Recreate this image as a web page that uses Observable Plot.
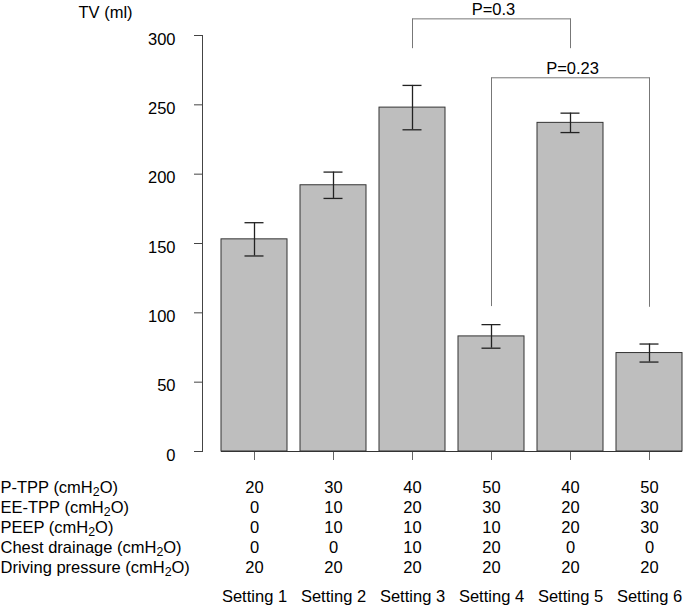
<!DOCTYPE html>
<html>
<head>
<meta charset="utf-8">
<script src="https://cdn.jsdelivr.net/npm/d3@7"></script>
<script src="https://cdn.jsdelivr.net/npm/@observablehq/plot@0.6"></script>
<style>
  html, body { margin: 0; padding: 0; background: #fff; }
  #chart svg { font-family: "Liberation Sans", Arial, Helvetica, sans-serif; }
</style>
</head>
<body>
<div id="chart"></div>
<script>
// ---- data ----
const settings = ["Setting 1", "Setting 2", "Setting 3", "Setting 4", "Setting 5", "Setting 6"];
const tvMean = [153, 192, 248, 83, 237, 71];
const tvErr = [12, 9.5, 16, 8.5, 7, 6.5];
const yTicks = [0, 50, 100, 150, 200, 250, 300];

const rowLabels = ["P-TPP (cmH2O)", "EE-TPP (cmH2O)", "PEEP (cmH2O)", "Chest drainage (cmH2O)", "Driving pressure (cmH2O)"];
const pTPP = [20, 30, 40, 50, 40, 50];
const eeTPP = [0, 10, 20, 30, 20, 30];
const peep = [0, 10, 10, 10, 20, 30];
const chestDrainage = [0, 0, 10, 20, 0, 0];
const drivingPressure = [20, 20, 20, 20, 20, 20];

const bracketFrom = ["Setting 3", "Setting 4"];
const bracketTo = ["Setting 5", "Setting 6"];
const bracketMid = ["Setting 4", "Setting 5"];
const bracketTop = [312, 269.5];
const bracketLeftEnd = [290.5, 104.5];
const bracketRightEnd = [290.5, 104];
const pLabels = ["P=0.3", "P=0.23"];

// ---- tables built from arrays ----
const bars = settings.map((s, i) => ({setting: s, tv: tvMean[i], lo: tvMean[i] - tvErr[i], hi: tvMean[i] + tvErr[i]}));
const rowValues = [pTPP, eeTPP, peep, chestDrainage, drivingPressure];
const brackets = pLabels.map((p, i) => ({
  from: bracketFrom[i], to: bracketTo[i], mid: bracketMid[i],
  top: bracketTop[i], leftEnd: bracketLeftEnd[i], rightEnd: bracketRightEnd[i], label: p
}));

const W = 685, H = 610;
const mL = 202, mT = 35, mB = 159, mR = 0;
const fs = 16.5;
const rowGap = 20, firstRowDy = 36, settingDy = 145;

const tableMarks = [];
rowValues.forEach((vals, r) => {
  const dy = firstRowDy + r * rowGap;
  tableMarks.push(Plot.text([rowLabels[r]], {
    text: d => d, frameAnchor: "bottom-left", textAnchor: "start", lineAnchor: "middle",
    dx: -mL, dy, fontSize: fs, fill: "black"
  }));
  tableMarks.push(Plot.text(settings.map((s, i) => ({setting: s, v: vals[i]})), {
    x: "setting", text: d => String(d.v), frameAnchor: "bottom", lineAnchor: "middle",
    dy, fontSize: fs, fill: "black"
  }));
});
tableMarks.push(Plot.text(settings, {
  x: d => d, text: d => d, frameAnchor: "bottom", lineAnchor: "middle",
  dy: settingDy, fontSize: fs, fill: "black"
}));

const chart = Plot.plot({
  width: W, height: H,
  marginLeft: mL, marginRight: mR, marginTop: mT, marginBottom: mB,
  style: {fontSize: fs + "px", background: "white", color: "black"},
  x: {type: "band", domain: settings, range: [221, 682.3], paddingInner: 0.1667, paddingOuter: 0, align: 0.5, axis: null},
  y: {domain: [0, 300], axis: null},
  marks: [
    Plot.frame({anchor: "left", stroke: "#444"}),
    Plot.axisY({ticks: yTicks, tickSize: 8, tickFormat: () => "", stroke: "#444", label: null}),
    Plot.axisY({ticks: yTicks, tickSize: 0, tickPadding: 27, dy: 4, fill: "black", label: null, fontSize: fs}),
    Plot.axisX({tickSize: 9, tickFormat: () => "", stroke: "#666", label: null}),
    Plot.barY(bars, {x: "setting", y: "tv", fill: "#bebebe", stroke: "#333", strokeWidth: 1}),
    Plot.ruleY([0], {insetLeft: 19, insetRight: 3, stroke: "#333"}),
    Plot.ruleX(bars, {x: "setting", y1: "lo", y2: "hi", stroke: "#222", strokeWidth: 1.3}),
    Plot.tickY(bars, {x: "setting", y: "hi", stroke: "#222", strokeWidth: 1.3, insetLeft: 23.5, insetRight: 23.5}),
    Plot.tickY(bars, {x: "setting", y: "lo", stroke: "#222", strokeWidth: 1.3, insetLeft: 23.5, insetRight: 23.5}),
    Plot.link(brackets, {x1: "from", x2: "to", y1: "top", y2: "top", stroke: "#777", strokeWidth: 1}),
    Plot.ruleX(brackets, {x: "from", y1: "top", y2: "leftEnd", stroke: "#777", strokeWidth: 1}),
    Plot.ruleX(brackets, {x: "to", y1: "top", y2: "rightEnd", stroke: "#777", strokeWidth: 1}),
    Plot.text(brackets, {x: "mid", y: "top", text: "label", lineAnchor: "bottom", dy: -4, dx: 2, fontSize: fs, fill: "black"}),
    Plot.text(["TV (ml)"], {text: d => d, frameAnchor: "top-left", textAnchor: "middle", lineAnchor: "middle", dx: -97, dy: -23, fontSize: fs, fill: "black"}),
    ...tableMarks
  ]
});

// subscript the 2 in "cmH2O"
chart.querySelectorAll("text").forEach(t => {
  const s = t.textContent;
  if (s.includes("H2O") && t.children.length === 0) {
    const idx = s.indexOf("H2O");
    t.textContent = s.slice(0, idx + 1);
    const sub = document.createElementNS("http://www.w3.org/2000/svg", "tspan");
    sub.setAttribute("font-size", "75%");
    sub.setAttribute("dy", "0.25em");
    sub.textContent = "2";
    const rest = document.createElementNS("http://www.w3.org/2000/svg", "tspan");
    rest.setAttribute("dy", "-0.19em");
    rest.textContent = s.slice(idx + 2);
    t.appendChild(sub);
    t.appendChild(rest);
  }
});

document.getElementById("chart").appendChild(chart);
</script>
</body>
</html>
